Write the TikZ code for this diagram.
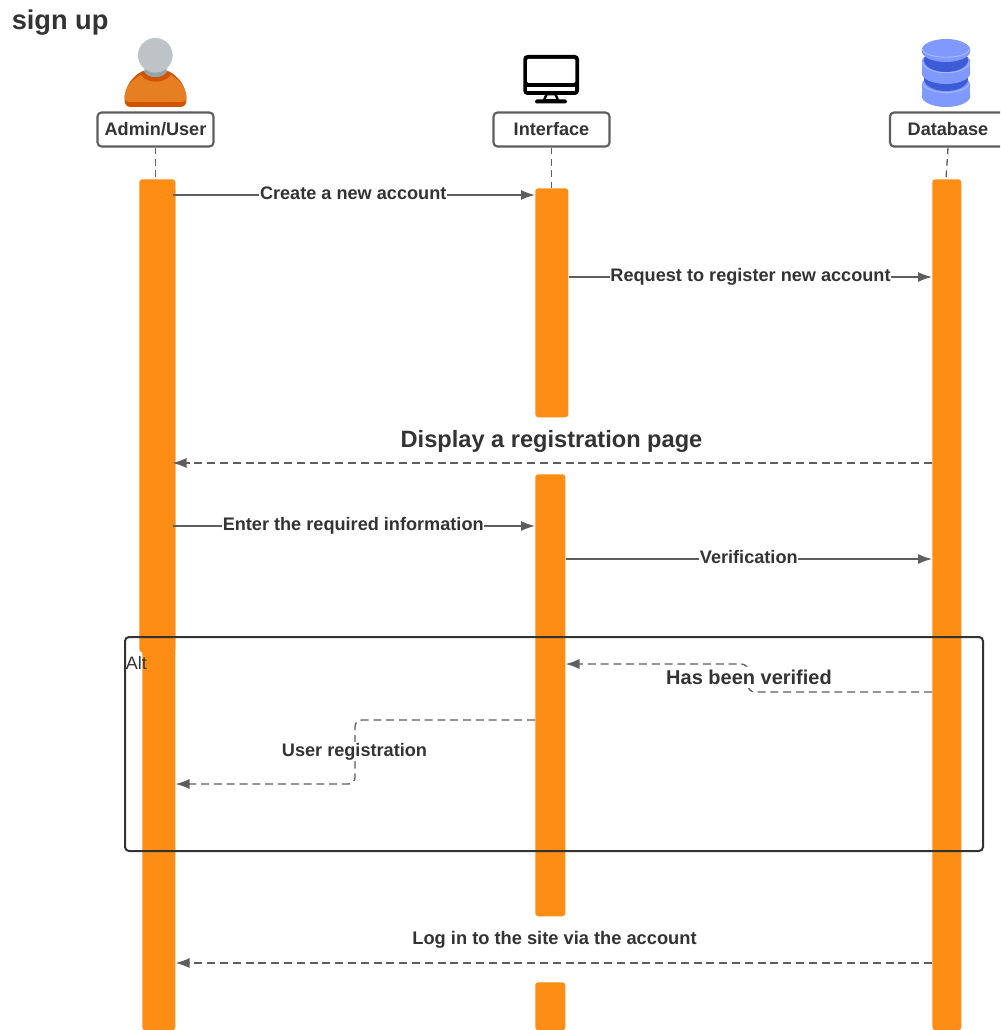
\documentclass[tikz,border=0pt]{standalone}
\usepackage{fontspec}
\setmainfont{Liberation Sans}
\usetikzlibrary{arrows.meta}
\definecolor{barc}{HTML}{FD8D14}
\definecolor{linec}{HTML}{5E5E5E}
\definecolor{txt}{HTML}{333333}
\definecolor{dbl}{HTML}{8099FF}
\definecolor{dbd}{HTML}{3D5BD6}
\definecolor{dbh}{HTML}{A9BBFF}
\definecolor{skin}{HTML}{BDC3C7}
\definecolor{neck}{HTML}{95A5A6}
\definecolor{shirt}{HTML}{E67E22}
\definecolor{shirtd}{HTML}{D35400}
\newcommand{\dbdisk}[3]{%
  \fill[#3] (946,#1) ellipse [x radius=18.2pt,y radius=8.25pt];
  \fill[#3] (921.7,#1) rectangle (970.3,#2);
  \fill[#3] (946,#2) ellipse [x radius=18.2pt,y radius=8.25pt];
}
\tikzset{
  x=0.75pt,y=-0.75pt,
  barbox/.style={fill=barc,draw=none,rounded corners=2.25pt,inner sep=0pt,anchor=north west},
  actor/.style={draw=linec,line width=1.6pt,rounded corners=3pt,fill=white,minimum width=87pt,minimum height=25.5pt,inner sep=0pt,font=\fontsize{13.6}{15}\selectfont\bfseries,text=txt},
  msg/.style={draw=linec,line width=1pt,-{Latex[length=10.5pt,width=7.5pt]}},
  retmsg/.style={msg,dash pattern=on 6pt off 3.6pt},
  stub/.style={draw=linec,line width=1pt,dash pattern=on 5pt off 3.6pt},
  lab/.style={fill=white,inner sep=0.6pt,font=\fontsize{13.6}{15}\selectfont\bfseries,text=txt},
  plainlab/.style={inner sep=0pt,font=\fontsize{13.7}{15}\selectfont\bfseries,text=txt},
  hilite/.style={dbh,line width=0.7pt},
}
\begin{document}
\begin{tikzpicture}
\clip (0,0) rectangle (1000,1030);
\fill[white] (0,0) rectangle (1000,1030);
% title
\node[anchor=west,inner sep=0pt,text=txt,font=\fontsize{20.4}{24}\selectfont\bfseries] (title) at (11.5,22.5) {sign up};
% bars
\node[barbox,minimum width=27pt,minimum height=354.75pt] (barAtop) at (139,179) {};
\node[barbox,minimum width=24.75pt,minimum height=633pt] (barA) at (142,186) {};
\node[barbox,minimum width=24.75pt,minimum height=171.75pt] (barI) at (535,188) {};
\node[barbox,minimum width=22.5pt,minimum height=331.5pt] (barJ) at (535,474) {};
\node[barbox,minimum width=22.5pt,minimum height=36pt] (barK) at (535,982) {};
\node[barbox,minimum width=21.75pt,minimum height=638.25pt] (barD) at (932,179) {};
% actors
\node[actor] (admin) at (155.5,129.5) {Admin/User};
\node[actor] (iface) at (551.5,129.5) {Interface};
\node[actor] (db) at (948,129.5) {Database};
% lifeline stubs
\coordinate (dbfoot) at (946,179);
\draw[stub] (admin.south) -- (barAtop.north -| admin.south);
\draw[stub] (iface.south) -- (barI.north -| iface.south);
\draw[stub] (db.south) -- (dbfoot);
% person icon
\fill[shirtd] (124.5,100) .. controls (124.5,87) and (132,76) .. (143,71) -- (168,71) .. controls (179,76) and (186.5,87) .. (186.5,100) .. controls (186.5,104.5) and (184,107) .. (180,107) -- (131,107) .. controls (127,107) and (124.5,104.5) .. (124.5,100) -- cycle;
\fill[shirt] (124.5,98) .. controls (124.5,89) and (131,80) .. (141,75) .. controls (146,84) and (165,84) .. (171,75) .. controls (180,80) and (186.5,89) .. (186.5,98) .. controls (186.5,100.5) and (185,102) .. (182,102) -- (129,102) .. controls (126,102) and (124.5,100.5) .. (124.5,98) -- cycle;
\fill[neck] (145,68) -- (166,68) -- (167,71.5) .. controls (163,79) and (148,79) .. (144,71.5) -- cycle;
\fill[skin] (155.3,55.3) circle [radius=13pt];
% monitor icon
\fill[black,rounded corners=3pt] (523.3,55) rectangle (579,95);
\fill[white,rounded corners=1pt] (527,58.8) rectangle (575.3,83);
\fill[white] (527,87.5) rectangle (575.3,90.7);
\fill[black] (545,95) -- (557,95) -- (559.5,100.5) -- (542.5,100.5) -- cycle;
\fill[white] (547.5,95.5) -- (554.5,95.5) -- (556,99) -- (546,99) -- cycle;
\fill[black,rounded corners=1.2pt] (535,99.5) rectangle (567,103.5);
% database icon
\dbdisk{85}{96}{dbl}
\draw[hilite] (922.5,82) arc [start angle=180,end angle=360,x radius=17.6pt,y radius=8pt];
\fill[dbd] (946,79) ellipse [x radius=16.5pt,y radius=9pt];
\dbdisk{62}{73}{dbl}
\draw[hilite] (922.5,62) arc [start angle=180,end angle=360,x radius=17.6pt,y radius=8pt];
\fill[dbd] (946,60) ellipse [x radius=16.5pt,y radius=9pt];
\dbdisk{50}{51}{dbl}
\draw[hilite] (922.5,49) arc [start angle=180,end angle=360,x radius=17.6pt,y radius=6.2pt];
% message levels
\coordinate (ya) at (0,195);
\coordinate (yb) at (0,277);
\coordinate (yc) at (0,463);
\coordinate (yd) at (0,526);
\coordinate (ye) at (0,559);
\coordinate (yf) at (0,692);
\coordinate (yg) at (0,664);
\coordinate (yh) at (0,720);
\coordinate (yi) at (0,784);
\coordinate (yj) at (0,963);
\coordinate (xf) at (748,0);
\coordinate (xh) at (355,0);
\coordinate (xs) at (172.5,0);
% messages
\draw[msg] (xs |- ya) -- (barI.west |- ya) node[lab,pos=0.5,yshift=1.5pt,xshift=-0.4pt] (l1) {Create a new account};
\draw[msg] (barI.east |- yb) -- (barD.west |- yb) node[lab,pos=0.5,yshift=0pt,xshift=0.2pt] (l2) {Request to register new account};
\draw[retmsg] (barD.west |- yc) -- (xs |- yc);
\node[plainlab,font=\fontsize{17.7}{20}\selectfont\bfseries] (l3) at (551.5,441.5) {Display a registration page};
\draw[msg] (xs |- yd) -- (barJ.west |- yd) node[lab,pos=0.5,yshift=0.5pt,xshift=-0.4pt] (l4) {Enter the required information};
\draw[msg] (barJ.east |- ye) -- (barD.west |- ye) node[lab,pos=0.5,yshift=1.5pt] (l5) {Verification};
\draw[retmsg,rounded corners=5pt] (barD.west |- yf) -- (xf |- yf) -- (xf |- yg) -- (barJ.east |- yg);
\node[lab,font=\fontsize{15}{17}\selectfont\bfseries,minimum height=16pt,inner sep=0pt] (l6) at (749,677.5) {Has been verified};
\draw[retmsg,rounded corners=5pt] (barJ.west |- yh) -- (xh |- yh) -- (xh |- yi) -- (barA.east |- yi);
\node[lab,font=\fontsize{13.6}{16}\selectfont\bfseries] (l7) at (354.5,751.5) {User registration};
\draw[retmsg] (barD.west |- yj) -- (barA.east |- yj);
\node[plainlab] (l8) at (554.5,939.5) {Log in to the site via the account};
% alt frame
\node[draw=txt,line width=1.5pt,rounded corners=3pt,minimum width=643.5pt,minimum height=160.5pt,inner sep=0pt] (altbox) at (554,744) {};
\node[anchor=west,inner sep=0pt,text=txt,font=\fontsize{13.5}{16}\selectfont] (alttag) at (125.5,663) {Alt};
\end{tikzpicture}
\end{document}
